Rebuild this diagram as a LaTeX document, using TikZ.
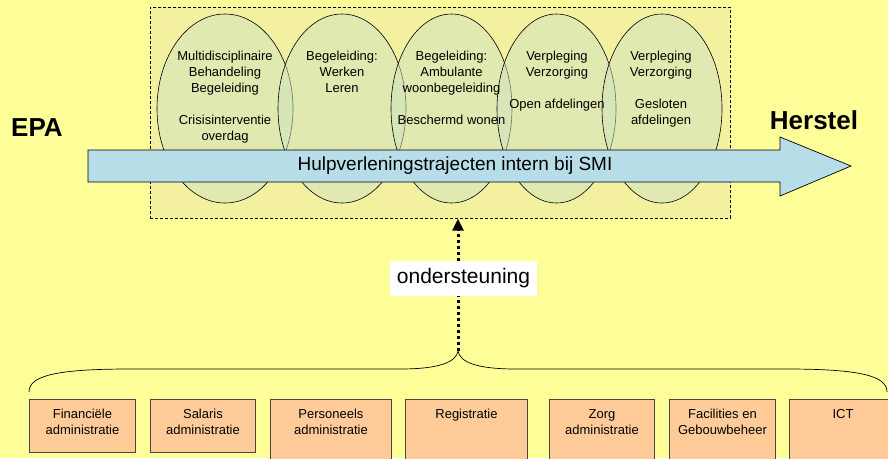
\documentclass[tikz,border=0pt]{standalone}
\usepackage{fontspec}
\setmainfont{Liberation Sans}
\usetikzlibrary{shapes.geometric,arrows.meta}
\definecolor{bgyellow}{RGB}{255,255,153}
\definecolor{panelfill}{RGB}{243,241,160}
\definecolor{phasefill}{RGB}{207,226,192}
\definecolor{trackfill}{RGB}{183,222,232}
\definecolor{deptfill}{RGB}{255,204,153}
\definecolor{deptline}{RGB}{80,72,64}
\tikzset{
  phase/.style={ellipse, draw=black, line width=0.6pt, fill=phasefill, fill opacity=0.5,
    minimum height=189pt, inner sep=0pt},
  phasetext/.style={anchor=north, inner sep=0pt, align=center,
    font=\fontsize{13}{16}\selectfont},
  dept/.style={draw=deptline, line width=0.9pt, fill=deptfill, anchor=north west,
    inner sep=0pt},
  depttext/.style={anchor=north, inner sep=0pt, align=center,
    font=\fontsize{13}{16}\selectfont},
  endlabel/.style={font=\bfseries\fontsize{26}{30}\selectfont, inner sep=0pt},
}
\begin{document}
\begin{tikzpicture}[x=1pt,y=-1pt]
\clip (0,0) rectangle (888,458);
\fill[bgyellow] (0,0) rectangle (888,458);

% care phases panel
\node[draw=black, line width=0.7pt, dash pattern=on 3pt off 2pt, fill=panelfill,
  anchor=north west, minimum width=580pt, minimum height=211pt, inner sep=0pt]
  (panel) at (150,7) {};

\node[phase, minimum width=136pt] (e1) at (225,108.5) {};
\node[phase, minimum width=128pt] (e2) at (342,108.5) {};
\node[phase, minimum width=121pt] (e3) at (451.5,108.5) {};
\node[phase, minimum width=119pt] (e4) at (556.5,108.5) {};
\node[phase, minimum width=120pt] (e5) at (662,108.5) {};

\node[phasetext] (t1) at (225,51) {Multidisciplinaire\\Behandeling\\Begeleiding\\[16pt]Crisisinterventie\\overdag};
\node[phasetext] (t2) at (342,51) {Begeleiding:\\Werken\\Leren};
\node[phasetext] (t3) at (451.5,51) {Begeleiding:\\Ambulante\\woonbegeleiding\\[16pt]Beschermd wonen};
\node[phasetext] (t4) at (557,51) {Verpleging\\Verzorging\\[16pt]Open afdelingen};
\node[phasetext] (t5) at (661,51) {Verpleging\\Verzorging\\[16pt]Gesloten\\afdelingen};

% main track arrow
\draw[line width=0.7pt, fill=trackfill]
  (88,150) -- (780,150) -- (780,137) -- (851,166) -- (780,196) -- (780,182) -- (88,182) -- cycle;
\node[font=\fontsize{19}{22}\selectfont, inner sep=0pt] (track) at (455,166)
  {Hulpverleningstrajecten intern bij SMI};

\node[endlabel] (epa) at (37,128) {EPA};
\node[endlabel] (herstel) at (814,120) {Herstel};

% support brace
\coordinate (tip) at (458,351);
\draw[line width=0.7pt]
  (29,392) .. controls (29,376) and (55,369) .. (130,369) -- (400,369)
  .. controls (440,369) and (456,362) .. (tip)
  .. controls (460,362) and (476,369) .. (516,369) -- (786,369)
  .. controls (861,369) and (887,376) .. (887,392);

\draw[line width=3pt, dash pattern=on 3pt off 3pt,
  -{Triangle[length=12pt,width=11pt]}] (tip) -- (panel.south -| tip);

\node[fill=white, minimum width=147pt, minimum height=35pt, inner sep=0pt,
  font=\fontsize{21}{24}\selectfont] (support) at (463.5,278.5) {ondersteuning};

% support departments
\node[dept, minimum width=106pt, minimum height=53pt] (b1) at (29,399) {};
\node[dept, minimum width=105pt, minimum height=53pt] (b2) at (150,399) {};
\node[dept, minimum width=121pt, minimum height=75pt] (b3) at (270,399) {};
\node[dept, minimum width=122pt, minimum height=75pt] (b4) at (405,399) {};
\node[dept, minimum width=105pt, minimum height=75pt] (b5) at (549,399) {};
\node[dept, minimum width=106pt, minimum height=75pt] (b6) at (669,399) {};
\node[dept, minimum width=110pt, minimum height=75pt] (b7) at (789,399) {};

\node[depttext] (d1) at ([yshift=-10pt]b1.north) {Financiële\\administratie};
\node[depttext] (d2) at ([yshift=-10pt]b2.north) {Salaris\\administratie};
\node[depttext] (d3) at ([yshift=-10pt]b3.north) {Personeels\\administratie};
\node[depttext] (d4) at ([yshift=-10pt]b4.north) {Registratie};
\node[depttext] (d5) at ([yshift=-10pt]b5.north) {Zorg\\administratie};
\node[depttext] (d6) at ([yshift=-10pt]b6.north) {Facilities en\\Gebouwbeheer};
\node[depttext] (d7) at ([yshift=-10pt]b7.north west) [xshift=54pt] {ICT};
\end{tikzpicture}
\end{document}
